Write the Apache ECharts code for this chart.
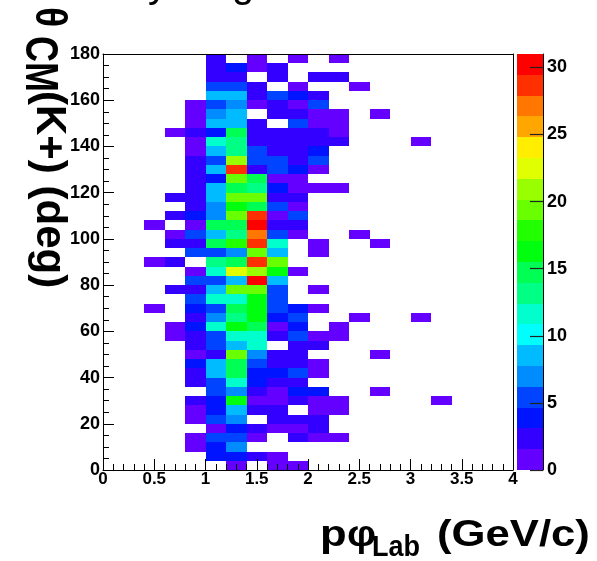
<!DOCTYPE html>
<html>
<head>
<meta charset="utf-8">
<script src="https://cdn.jsdelivr.net/npm/echarts@6/dist/echarts.min.js"></script>
<style>
html,body{margin:0;padding:0;background:#ffffff;}
#chart{width:597px;height:561px;}
</style>
</head>
<body>
<div id="chart"></div>
<script>
// ---- histogram binning (lower bin edges) ----
const xBinLow = [0.0,0.2,0.4,0.6,0.8,1.0,1.2,1.4,1.6,1.8,2.0,2.2,2.4,2.6,2.8,3.0,3.2,3.4,3.6,3.8];
const xBinWidth = 0.2;
// rows listed from top (176-180 deg) to bottom (0-4 deg)
const yBinLow = [176,172,168,164,160,156,152,148,144,140,136,132,128,124,120,116,112,108,104,100,96,92,88,84,80,76,72,68,64,60,56,52,48,44,40,36,32,28,24,20,16,12,8,4,0];
const yBinWidth = 4;

// ---- bin contents (one row per theta bin, columns follow xBinLow) ----
const counts = [
  [0,0,0,0,0,2,0,1,0,1,0,1,0,0,0,0,0,0,0,0],
  [0,0,0,0,0,2,4,1,2,0,0,0,0,0,0,0,0,0,0,0],
  [0,0,0,0,0,2,2,0,2,0,2,2,0,0,0,0,0,0,0,0],
  [0,0,0,0,0,5,5,2,0,1,0,0,1,0,0,0,0,0,0,0],
  [0,0,0,0,0,8,8,2,5,4,2,0,0,0,0,0,0,0,0,0],
  [0,0,0,0,1,5,7,1,2,1,5,0,0,0,0,0,0,0,0,0],
  [0,0,0,0,1,7,8,0,2,2,1,1,0,1,0,0,0,0,0,0],
  [0,0,0,0,1,8,8,2,0,5,1,1,0,0,0,0,0,0,0,0],
  [0,0,0,1,2,4,15,2,2,2,2,1,0,0,0,0,0,0,0,0],
  [0,0,0,0,1,11,13,2,2,2,2,2,0,0,0,1,0,0,0,0],
  [0,0,0,0,1,8,13,5,2,2,4,0,0,0,0,0,0,0,0,0],
  [0,0,0,0,2,5,21,5,5,2,5,0,0,0,0,0,0,0,0,0],
  [0,0,0,0,2,8,28,2,5,4,1,0,0,0,0,0,0,0,0,0],
  [0,0,0,0,2,4,19,15,1,1,0,0,0,0,0,0,0,0,0,0],
  [0,0,0,0,2,8,15,13,4,1,1,1,0,0,0,0,0,0,0,0],
  [0,0,0,2,2,8,20,20,2,2,0,0,0,0,0,0,0,0,0,0],
  [0,0,0,0,2,7,17,14,5,1,0,0,0,0,0,0,0,0,0,0],
  [0,0,0,2,4,7,19,28,1,5,0,0,0,0,0,0,0,0,0,0],
  [0,0,1,0,1,14,14,31,2,2,0,0,0,0,0,0,0,0,0,0],
  [0,0,0,1,5,8,13,27,5,1,0,0,1,0,0,0,0,0,0,0],
  [0,0,0,2,2,14,18,28,11,0,1,0,0,1,0,0,0,0,0,0],
  [0,0,0,0,5,5,7,20,8,0,1,0,0,0,0,0,0,0,0,0],
  [0,0,1,2,0,13,14,28,19,0,0,0,0,0,0,0,0,0,0,0],
  [0,0,0,0,1,11,23,21,16,1,0,0,0,0,0,0,0,0,0,0],
  [0,0,0,0,5,5,8,30,8,0,0,0,0,0,0,0,0,0,0,0],
  [0,0,0,2,2,8,19,19,5,0,1,0,0,0,0,0,0,0,0,0],
  [0,0,0,0,5,11,11,16,5,0,0,0,0,0,0,0,0,0,0,0],
  [0,0,1,0,4,5,14,17,5,4,1,0,0,0,0,0,0,0,0,0],
  [0,0,0,0,2,7,13,17,4,5,0,0,1,0,0,1,0,0,0,0],
  [0,0,0,1,4,11,16,14,1,4,0,1,0,0,0,0,0,0,0,0],
  [0,0,0,1,2,5,11,11,2,5,1,1,0,0,0,0,0,0,0,0],
  [0,0,0,0,2,5,8,11,0,2,2,0,0,0,0,0,0,0,0,0],
  [0,0,0,0,1,3,19,7,2,2,0,0,0,1,0,0,0,0,0,0],
  [0,0,0,0,4,8,15,5,2,2,1,0,0,0,0,0,0,0,0,0],
  [0,0,0,0,2,8,15,4,4,5,1,0,0,0,0,0,0,0,0,0],
  [0,0,0,0,2,5,11,4,2,2,0,0,0,0,0,0,0,0,0,0],
  [0,0,0,0,0,5,7,2,1,4,4,0,0,1,0,0,0,0,0,0],
  [0,0,0,0,2,4,16,1,1,2,1,1,0,0,0,0,1,0,0,0],
  [0,0,0,0,1,4,8,2,2,0,1,1,0,0,0,0,0,0,0,0],
  [0,0,0,0,1,5,7,0,2,2,2,0,0,0,0,0,0,0,0,0],
  [0,0,0,0,0,1,4,2,1,1,2,0,0,0,0,0,0,0,0,0],
  [0,0,0,0,1,5,5,1,0,2,1,1,0,0,0,0,0,0,0,0],
  [0,0,0,0,1,4,7,0,0,0,0,0,0,0,0,0,0,0,0,0],
  [0,0,0,0,0,4,4,2,1,0,0,0,0,0,0,0,0,0,0,0],
  [0,0,0,0,0,0,1,0,1,1,0,0,0,0,0,0,0,0,0,0]
];

// ---- axis ticks ----
const xTicks = [0,0.5,1,1.5,2,2.5,3,3.5,4];
const yTicks = [0,20,40,60,80,100,120,140,160,180];
const zTicks = [0,5,10,15,20,25,30];
const zMax = 31;

// ---- colour palette (20 contour levels) ----
const palette = ['#6300ff','#3300ff','#0014ff','#0044ff','#008bff','#00bbff','#00fffc','#00ffcc','#00ff85','#00ff55',
                 '#00ff0e','#22ff00','#69ff00','#99ff00','#e0ff00','#ffee00','#ffa700','#ff7700','#ff3000','#ff0000'];

const FONT = "'Liberation Sans', Arial, 'DejaVu Sans', sans-serif";

function colorFor(v) {
  let k = Math.floor(v / zMax * palette.length);
  if (k >= palette.length) k = palette.length - 1;
  if (k < 0) k = 0;
  return palette[k];
}

const cells = [];
for (let i = 0; i < yBinLow.length; i++) {
  for (let j = 0; j < xBinLow.length; j++) {
    const c = counts[i][j];
    if (c > 0) cells.push([xBinLow[j], yBinLow[i], c]);
  }
}
const levels = palette.map((c, i) => [i * zMax / palette.length, (i + 1) * zMax / palette.length, i]);

const chart = echarts.init(document.getElementById('chart'), null, {renderer: 'canvas'});

const blackLine = {show: true, onZero: false, lineStyle: {color: '#000', width: 1}};

function txt(text, x, y, font, opts) {
  return Object.assign({type: 'text', x: x, y: y, z: 20,
    style: {text: text, font: font, fill: '#000',
            textAlign: 'left', textVerticalAlign: 'middle', align: 'left', verticalAlign: 'middle'}}, opts || {});
}

const option = {
  animation: false,
  backgroundColor: '#ffffff',
  grid: [
    {left: 103, top: 54, width: 410, height: 416, show: false, outerBoundsMode: 'none', containLabel: false},
    {left: 517, top: 54, width: 26, height: 416, show: false, outerBoundsMode: 'none', containLabel: false}
  ],
  xAxis: [
    {
      gridIndex: 0, type: 'value', min: 0, max: 4, interval: 0.5, position: 'bottom', z: 10,
      axisLine: blackLine,
      axisTick: {show: true, inside: true, length: 11, lineStyle: {color: '#000', width: 1}},
      minorTick: {show: true, splitNumber: 5, length: 6, lineStyle: {color: '#000', width: 1}},
      axisLabel: {show: true, margin: 1, color: '#000', fontFamily: FONT, fontWeight: 'bold', fontSize: 17,
                  customValues: xTicks, hideOverlap: false},
      splitLine: {show: false}, minorSplitLine: {show: false}
    },
    {
      gridIndex: 0, type: 'value', min: 0, max: 4, position: 'top', z: 10,
      axisLine: blackLine, axisTick: {show: false}, axisLabel: {show: false}, splitLine: {show: false}
    },
    {
      gridIndex: 1, type: 'value', min: 0, max: 1, show: false, axisLine: {onZero: false}, splitLine: {show: false}
    }
  ],
  yAxis: [
    {
      gridIndex: 0, type: 'value', min: 0, max: 180, interval: 20, position: 'left', z: 10,
      axisLine: blackLine,
      axisTick: {show: true, inside: true, length: 11, lineStyle: {color: '#000', width: 1}},
      minorTick: {show: true, splitNumber: 4, length: 6, lineStyle: {color: '#000', width: 1}},
      axisLabel: {show: true, margin: 3, color: '#000', fontFamily: FONT, fontWeight: 'bold', fontSize: 18,
                  customValues: yTicks, hideOverlap: false},
      splitLine: {show: false}, minorSplitLine: {show: false}
    },
    {
      gridIndex: 0, type: 'value', min: 0, max: 180, position: 'right', z: 10,
      axisLine: blackLine, axisTick: {show: false}, axisLabel: {show: false}, splitLine: {show: false}
    },
    {
      gridIndex: 1, type: 'value', min: 0, max: zMax, position: 'right', z: 10,
      axisLine: blackLine,
      axisTick: {show: true, inside: true, length: 13, customValues: zTicks, lineStyle: {color: '#222', width: 1.2}},
      axisLabel: {show: true, margin: 4, color: '#000', fontFamily: FONT, fontWeight: 'bold', fontSize: 18,
                  customValues: zTicks, hideOverlap: false},
      splitLine: {show: false}
    }
  ],
  series: [
    {
      type: 'custom',
      xAxisIndex: 0, yAxisIndex: 0,
      data: cells,
      clip: true,
      encode: {x: 0, y: 1},
      renderItem: function (params, api) {
        const x0 = api.value(0), y0 = api.value(1), v = api.value(2);
        const p1 = api.coord([x0, y0 + yBinWidth]);
        const p2 = api.coord([x0 + xBinWidth, y0]);
        const l = Math.round(p1[0]), t = Math.round(p1[1]);
        const r = Math.round(p2[0]), b = Math.round(p2[1]);
        return {type: 'rect', shape: {x: l, y: t, width: r - l, height: b - t},
                style: {fill: colorFor(v)}};
      },
      z: 2
    },
    {
      type: 'custom',
      xAxisIndex: 2, yAxisIndex: 2,
      data: levels,
      clip: false,
      encode: {y: [0, 1]},
      renderItem: function (params, api) {
        const lo = api.value(0), hi = api.value(1), k = api.value(2);
        const p1 = api.coord([0, hi]);
        const p2 = api.coord([1, lo]);
        const l = Math.round(p1[0]), t = Math.round(p1[1]);
        const r = Math.round(p2[0]), b = Math.round(p2[1]);
        return {type: 'rect', shape: {x: l, y: t, width: r - l, height: b - t},
                style: {fill: palette[k]}};
      },
      z: 2
    }
  ],
  graphic: {
    elements: [
      // cut-off title descenders at the very top
      txt('y', 148, -14, "normal 40px " + FONT),
      txt('g', 232, -14, "normal 40px " + FONT),
      // y axis title (reads top to bottom)
      txt('θ', 48.5, 7, "bold 44px " + FONT, {rotation: -Math.PI / 2, scaleX: 0.85}),
      txt('CM', 38.5, 36, "bold 36px " + FONT, {rotation: -Math.PI / 2, scaleY: 1.3}),
      txt('(K+) (deg)', 48.5, 91, "bold 42px " + FONT, {rotation: -Math.PI / 2}),
      // x axis title
      txt('p', 320, 535.5, "bold 37px " + FONT, {scaleX: 1.18}),
      txt('φ', 347, 535.5, "bold 37px " + FONT, {scaleX: 1.1}),
      txt('Lab', 372, 547.6, "bold 30px " + FONT, {scaleX: 0.9}),
      txt('(GeV/c)', 437, 535.5, "bold 37px " + FONT, {scaleX: 1.18})
    ]
  }
};

chart.setOption(option);
</script>
</body>
</html>
